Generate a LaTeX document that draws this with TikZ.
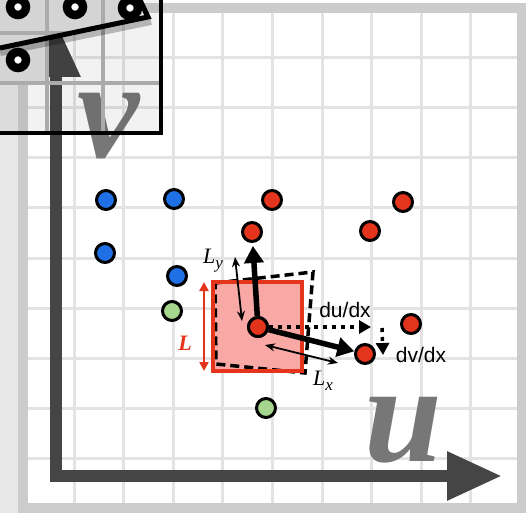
\documentclass[tikz,border=0pt]{standalone}
\usepackage{fontspec}
\newfontfamily\labsans{Liberation Sans}
\newfontfamily\bigserif{Liberation Serif}
\usetikzlibrary{arrows.meta}
\definecolor{bgout}{HTML}{E8E8E8}
\definecolor{framegray}{HTML}{CCCCCC}
\definecolor{gridgray}{HTML}{E3E3E3}
\definecolor{axisgray}{HTML}{454545}
\definecolor{lettergray}{HTML}{777777}
\definecolor{dotblue}{HTML}{1F6FE5}
\definecolor{dotred}{HTML}{E5341C}
\definecolor{dotgreen}{HTML}{A6D68E}
\definecolor{pinkfill}{HTML}{F8A9A6}
\definecolor{insetgray}{HTML}{D4D4D4}
\definecolor{insetline}{HTML}{ABABAB}
\newcommand{\sublabel}[2]{{\bigserif\itshape\fontsize{22}{22}\selectfont #1\raisebox{-5pt}{\fontsize{17}{17}\selectfont #2}}}
\tikzset{
  gridline/.style={draw=gridgray, line width=3pt},
  axisline/.style={draw=axisgray, line width=12pt, line join=miter},
  dot/.style={circle, draw=black, line width=3pt, minimum size=19pt, inner sep=0pt},
  bluedot/.style={dot, fill=dotblue},
  reddot/.style={dot, fill=dotred},
  greendot/.style={dot, fill=dotgreen},
  ring/.style={circle, fill=white, draw=black, line width=8.5pt, minimum size=16pt, inner sep=0pt},
  bigletter/.style={text=lettergray, inner sep=0pt, anchor=base, font=\bigserif\bfseries\itshape\fontsize{140}{140}\selectfont},
  thickarrow/.style={draw=black, line width=5.5pt, -{Triangle[length=17pt,width=19pt]}},
  dotarrow/.style={draw=black, line width=3.5pt, dash pattern=on 4pt off 5pt, -{Triangle[length=12pt,width=13pt]}},
  thinarrow/.style={draw=black, line width=1.8pt, {Stealth[length=10pt,width=8pt]}-{Stealth[length=10pt,width=8pt]}},
  sanslabel/.style={inner sep=0pt, font=\labsans\fontsize{21}{21}\selectfont},
  mathlabel/.style={inner sep=0pt},
  insetgrid/.style={draw=insetline, line width=4pt},
}
\begin{document}
\begin{tikzpicture}[x=1pt,y=-1pt]
\useasboundingbox (0,0) rectangle (530,513);
\fill[white] (0,0) rectangle (530,513);
\fill[bgout] (0,0) rectangle (18,513);
% frame
\fill[framegray] (18,3) rectangle (526,513);
\fill[white] (28,13) rectangle (517,503);
% grid
\foreach \i in {0,...,8} {
  \draw[gridline] ({74+49.6*\i},13) -- ({74+49.6*\i},503);
  \draw[gridline] (28,{58+50*\i}) -- (517,{58+50*\i});
}
% axes
\coordinate (vtip) at (56,22);
\coordinate (orig) at (56,476);
\coordinate (utip) at (502,476);
\draw[axisline, {Triangle[length=55pt,width=46pt]}-{Triangle[length=55pt,width=46pt]}] (vtip) -- (orig) -- (utip);
% letters
\node[bigletter] (vlet) at (109,158) {\smash{v}};
\node[bigletter] (ulet) at (403,461) {\smash{u}};
% deformed square
\fill[pinkfill] (213,282) rectangle (302,371);
\draw[black, line width=3.5pt, dash pattern=on 9pt off 5pt] (215,283) -- (313,272) -- (305,373) -- (216,364) -- cycle;
\draw[dotred, line width=4pt] (213,282) rectangle (302,371);
% L arrow
\coordinate (Ltop) at (204,282);
\coordinate (Lbot) at (204,371);
\draw[dotred, line width=2.5pt, {Triangle[length=9pt,width=9pt]}-{Triangle[length=9pt,width=9pt]}] (Ltop) -- (Lbot);
\node[text=dotred, inner sep=0pt, font=\bigserif\bfseries\itshape\fontsize{22}{22}\selectfont] (Llab) at (185,343) {L};
% points
\node[bluedot] (b1) at (106,200) {};
\node[bluedot] (b2) at (174,199) {};
\node[bluedot] (b3) at (105,253) {};
\node[bluedot] (b4) at (177,276) {};
\node[reddot] (r1) at (272,200) {};
\node[reddot] (r2) at (403,202) {};
\node[reddot] (r3) at (252,232) {};
\node[reddot] (r4) at (370,231) {};
\node[reddot] (r5) at (411,324) {};
\node[reddot] (r6) at (365,354) {};
\node[greendot] (g1) at (172,311) {};
\node[greendot] (g2) at (266,408) {};
% thin double arrows
\coordinate (lya) at (235,257);
\coordinate (lyb) at (242,321);
\coordinate (lxa) at (265,345);
\coordinate (lxb) at (338,363);
\draw[thinarrow] (lya) -- (lyb);
\draw[thinarrow] (lxa) -- (lxb);
\node[mathlabel] (lylab) at (213,261) {\sublabel{L}{y}};
\node[mathlabel] (lxlab) at (323,381) {\sublabel{L}{x}};
% dotted derivative arrows
\coordinate (duend) at (371,327);
\coordinate (dvstart) at (382,328);
\coordinate (dvend) at (383,355);
\node[reddot] (c) at (258,327) {};
\draw[dotarrow] (c) -- (duend);
\draw[dotarrow] (dvstart) -- (dvend);
\node[sanslabel] (dulab) at (345,310) {du/dx};
\node[sanslabel] (dvlab) at (421,355) {dv/dx};
% thick arrows
\draw[thickarrow, shorten >=3pt] (c) -- (r3);
\draw[thickarrow] (c) -- (r6);
\node[reddot] at (c) {};
% inset
\fill[black, opacity=0.05] (0,0) rectangle (161,133);
\fill[insetgray] (0,0) rectangle (47,83);
\fill[insetgray] (0,0) -- (0,48) -- (148,17) -- (141,0) -- cycle;
\draw[insetgrid] (47,0) -- (47,133);
\draw[insetgrid] (103,0) -- (103,133);
\draw[insetgrid] (0,83) -- (161,83);
\draw[insetgrid] (0,33) -- (70,33);
\draw[black, opacity=0.25, line width=8pt] (0,52) -- (151,21);
\draw[black, line width=5pt, line join=miter] (0,48) -- (148,17) -- (140,0);
\node[ring] (i1) at (18,7) {};
\node[ring] (i2) at (75,7) {};
\node[ring] (i3) at (130,8) {};
\node[ring] (i4) at (18,60) {};
\draw[black, line width=4.5pt] (-10,-10) rectangle (161,133);
\end{tikzpicture}
\end{document}
